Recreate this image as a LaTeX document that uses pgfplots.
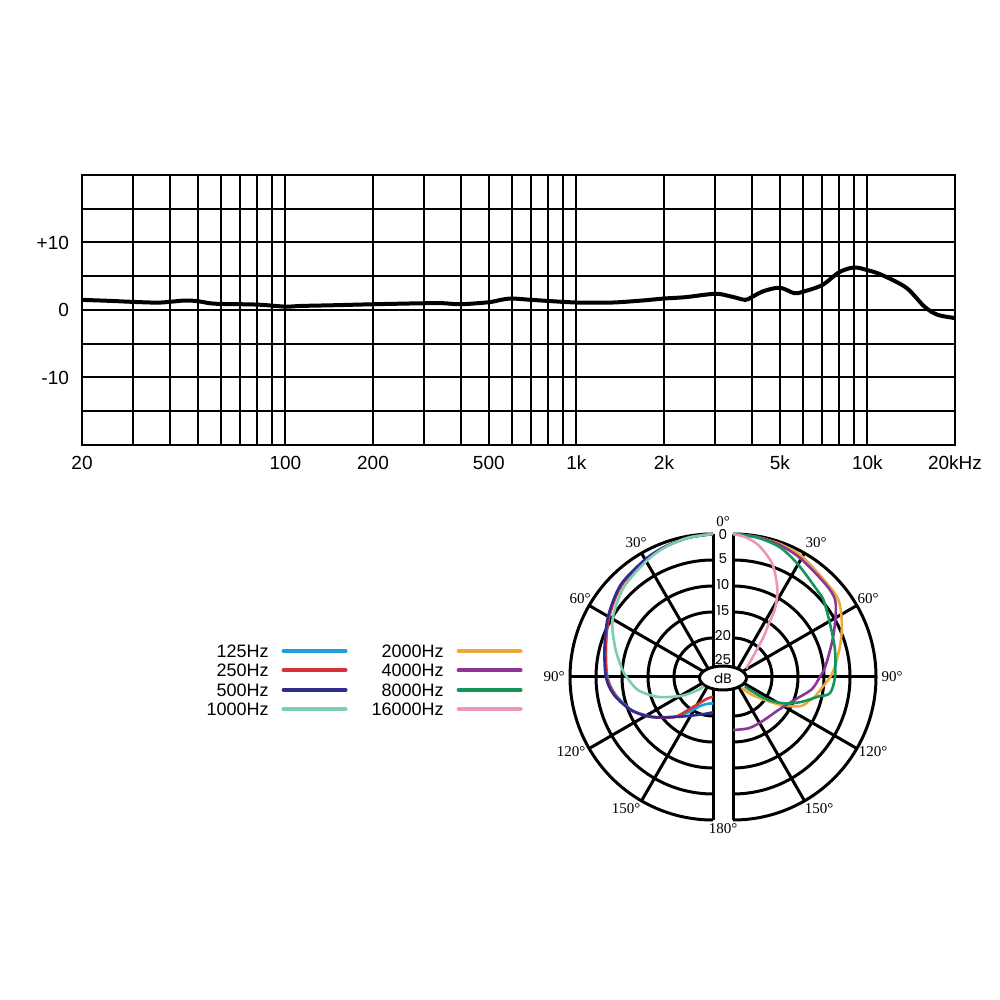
\documentclass[border=0pt]{standalone}
\usepackage{pgfplots}
\pgfplotsset{compat=1.18}
\usepackage{pgfplotstable}
\usepackage{fontspec}
\setmainfont{Liberation Sans}
\newfontfamily\serifang{Liberation Serif}
\newfontfamily\geo{Poppins}
\definecolor{c125}{RGB}{30,160,220}
\definecolor{c250}{RGB}{215,50,60}
\definecolor{c500}{RGB}{50,45,140}
\definecolor{c1000}{RGB}{125,205,175}
\definecolor{c2000}{RGB}{235,170,60}
\definecolor{c4000}{RGB}{140,55,150}
\definecolor{c8000}{RGB}{20,150,90}
\definecolor{c16000}{RGB}{235,150,190}

\pgfplotstableread{
f db
20 1.5
25 1.35
30 1.2
37 1.1
45 1.4
50 1.3
55 1.0
60 0.9
80 0.8
100 0.5
113 0.6
145 0.7
200 0.85
300 1.0
350 1.0
400 0.85
500 1.15
550 1.5
600 1.7
700 1.5
900 1.2
1000 1.1
1320 1.1
1680 1.4
2000 1.7
2370 1.9
3000 2.4
3400 2.0
3800 1.5
4000 1.9
4400 2.8
5000 3.3
5600 2.5
6000 2.7
7000 3.7
8000 5.6
9000 6.3
10000 5.9
11200 5.2
13600 3.3
15700 0.5
17400 -0.7
20000 -1.2
}\freqresp

% polar data: angle (deg), attenuation (dB)
\pgfplotstableread{
ang db
0 0
10 0.3
20 0.8
30 1.5
45 2.6
60 4.4
75 6.2
90 7.2
100 8.4
112 10.6
123 13.5
136 16.9
145 19.2
156 21.4
170 22.3
180 22.4
}\pA
\pgfplotstableread{
ang db
0 0
10 0.3
20 0.8
30 1.5
45 2.6
60 4.4
75 6.1
90 7.1
100 8.3
112 10.5
123 13.4
136 16.8
143 19.6
153 21.9
165 23.2
180 23.7
}\pB
\pgfplotstableread{
ang db
0 0
10 0.3
20 0.8
30 1.4
45 2.4
60 4.2
75 5.9
90 6.9
100 8.1
112 10.5
123 13.4
136 16.8
150 18.9
165 20.1
180 20.7
}\pC
\pgfplotstableread{
ang db
0 0
10 0.3
20 0.9
30 1.8
45 3.2
60 5.2
73 7.8
84 9.8
90 10.9
100 12.9
110 16.3
121 20.5
131 23.7
135 25
}\pD
\pgfplotstableread{
ang db
0 0
10 0.2
20 0.4
30 0.8
45 2.0
54 2.4
64 4.2
74 6.1
84 7.8
90 8.8
97 10.3
103.5 11.3
108 12.3
113 13.2
119 16.1
124.5 19.3
133.5 22.6
141.5 24.8
}\pE
\pgfplotstableread{
ang db
0 0
10 0.2
20 0.6
30 1.3
45 2.3
53 2.9
61 5.0
71 7.4
84 9.7
90 10.8
99 12.2
110 14.8
126 16.7
147 17.3
163 17.2
180 17.3
}\pF
\pgfplotstableread{
ang db
0 0
10 0.3
20 1.0
30 2.5
45 4.3
50 4.7
61 6.2
75 7.2
90 7.9
99.5 8.6
103 10.7
110 13.5
117 16.3
123 19.4
127 23
128 24.6
}\pG
\pgfplotstableread{
ang db
0 0
5 0.5
11 1.7
19 4.4
26 8.1
29.6 10.5
32 12.5
34 15.3
37 17.5
40 19.9
48 23
57 24.5
}\pH

\newcommand\LX{-(10+(143-5.2*\thisrow{db})*sin(\thisrow{ang}))}
\newcommand\RX{(10+(143-5.2*\thisrow{db})*sin(\thisrow{ang}))}
\newcommand\PY{(143-5.2*\thisrow{db})*cos(\thisrow{ang})}

\begin{document}
\begin{tikzpicture}
\path[use as bounding box] (0pt,0pt) rectangle (500pt,500pt);

% ---------------- frequency response ----------------
\begin{axis}[at={(41pt,277.5pt)}, anchor=south west,
  width=436.5pt, height=135pt, scale only axis,
  xmode=log, xmin=20, xmax=20000, ymin=-20, ymax=20,
  xtick={20,30,40,50,60,70,80,90,100,200,300,400,500,600,700,800,900,1000,2000,3000,4000,5000,6000,7000,8000,9000,10000,20000},
  xticklabels={20,,,,,,,,100,200,,,500,,,,,1k,2k,,,5k,,,,,10k,20kHz},
  ytick={-20,-15,-10,-5,0,5,10,15,20},
  yticklabels={,,-10,,0,,+10,,},
  xminorticks=false, yminorticks=false,
  grid=major, major grid style={black, line width=1pt},
  axis line style={black, line width=1pt},
  major tick length=0pt,
  tick label style={font=\fontsize{9.5}{10}\selectfont, text=black},
  xticklabel style={yshift=-2pt},
  yticklabel style={xshift=-3pt},
]
\addplot[black, line width=2pt, smooth] table[x=f,y=db] {\freqresp};
\end{axis}

% ---------------- polar grid (pixel units) ----------------
\begin{scope}[x=0.5pt, y=0.5pt, line width=1.5pt, black]
\foreach \r in {143,117,91,65,39} {
  \draw (713,{323+\r}) arc[start angle=90, end angle=270, radius=\r];
  \draw (733,{323+\r}) arc[start angle=90, end angle=-90, radius=\r];
}
\draw (713,333) -- (713,466);
\draw (713,311) -- (713,180);
\draw (733,333) -- (733,466);
\draw (733,311) -- (733,180);
\foreach \a in {30,60,90,120,150} {
  \draw ({713-5*sin(\a)},{323+5*cos(\a)}) -- ({713-143*sin(\a)},{323+143*cos(\a)});
  \draw ({733+5*sin(\a)},{323+5*cos(\a)}) -- ({733+143*sin(\a)},{323+143*cos(\a)});
}
\draw[fill=white] (723,322) ellipse [x radius=23.5, y radius=12];
\end{scope}

% ---------------- polar curves + legend ----------------
\begin{axis}[at={(361.5pt,161.5pt)}, anchor=center, x=0.5pt, y=0.5pt,
  xmin=-160, xmax=160, ymin=-160, ymax=160, hide axis, clip=false,
  legend columns=4, transpose legend, legend plot pos=right, legend cell align=right,
  legend style={at={(-0.125,0.603)}, anchor=north east, draw=none, fill=none,
    inner sep=0pt, font=\fontsize{9}{9}\selectfont, row sep=3.2pt,
    nodes={inner sep=0pt, text height=6.5pt, text depth=0pt},
    /tikz/every odd column/.append style={column sep=6.5pt},
    /tikz/every even column/.append style={column sep=12pt}},
  legend image code/.code={\draw[#1, line width=2pt, line cap=round] (1pt,0pt) -- (32pt,0pt);},
]
\addplot[c125, line width=1.3pt, smooth] table[x expr={\LX}, y expr={\PY}] {\pA};
\addlegendentry{125Hz}
\addplot[c250, line width=1.3pt, smooth] table[x expr={\LX}, y expr={\PY}] {\pB};
\addlegendentry{250Hz}
\addplot[c500, line width=1.3pt, smooth] table[x expr={\LX}, y expr={\PY}] {\pC};
\addlegendentry{500Hz}
\addplot[c1000, line width=1.3pt, smooth] table[x expr={\LX}, y expr={\PY}] {\pD};
\addlegendentry{1000Hz}
\addplot[c2000, line width=1.3pt, smooth] table[x expr={\RX}, y expr={\PY}] {\pE};
\addlegendentry{2000Hz}
\addplot[c4000, line width=1.3pt, smooth] table[x expr={\RX}, y expr={\PY}] {\pF};
\addlegendentry{4000Hz}
\addplot[c8000, line width=1.3pt, smooth] table[x expr={\RX}, y expr={\PY}] {\pG};
\addlegendentry{8000Hz}
\addplot[c16000, line width=1.3pt, smooth] table[x expr={\RX}, y expr={\PY}] {\pH};
\addlegendentry{16000Hz}
\end{axis}

% ---------------- polar labels ----------------
\begin{scope}[x=0.5pt, y=0.5pt, every node/.style={inner sep=0pt}]
\node[font=\serifang\fontsize{7.5}{8}\selectfont] at (723,478) {0°};
\node[font=\serifang\fontsize{7.5}{8}\selectfont] at (723,171) {180°};
\node[font=\serifang\fontsize{7.5}{8}\selectfont] at (636,457) {30°};
\node[font=\serifang\fontsize{7.5}{8}\selectfont] at (580,401) {60°};
\node[font=\serifang\fontsize{7.5}{8}\selectfont] at (554,323) {90°};
\node[font=\serifang\fontsize{7.5}{8}\selectfont] at (571,248) {120°};
\node[font=\serifang\fontsize{7.5}{8}\selectfont] at (626,191) {150°};
\node[font=\serifang\fontsize{7.5}{8}\selectfont] at (816,457) {30°};
\node[font=\serifang\fontsize{7.5}{8}\selectfont] at (868,401) {60°};
\node[font=\serifang\fontsize{7.5}{8}\selectfont] at (892,323) {90°};
\node[font=\serifang\fontsize{7.5}{8}\selectfont] at (873,248) {120°};
\node[font=\serifang\fontsize{7.5}{8}\selectfont] at (819,191) {150°};
\node[font=\geo\fontsize{6.8}{7}\selectfont] at (723,465) {0};
\node[font=\geo\fontsize{6.8}{7}\selectfont] at (723,441) {5};
\node[font=\geo\fontsize{6.8}{7}\selectfont] at (723,415) {10};
\node[font=\geo\fontsize{6.8}{7}\selectfont] at (723,389) {15};
\node[font=\geo\fontsize{6.8}{7}\selectfont] at (723,364) {20};
\node[font=\geo\fontsize{6.8}{7}\selectfont] at (723,340) {25};
\node[font=\geo\fontsize{6.8}{7}\selectfont] at (723,321) {dB};
\end{scope}
\end{tikzpicture}
\end{document}
